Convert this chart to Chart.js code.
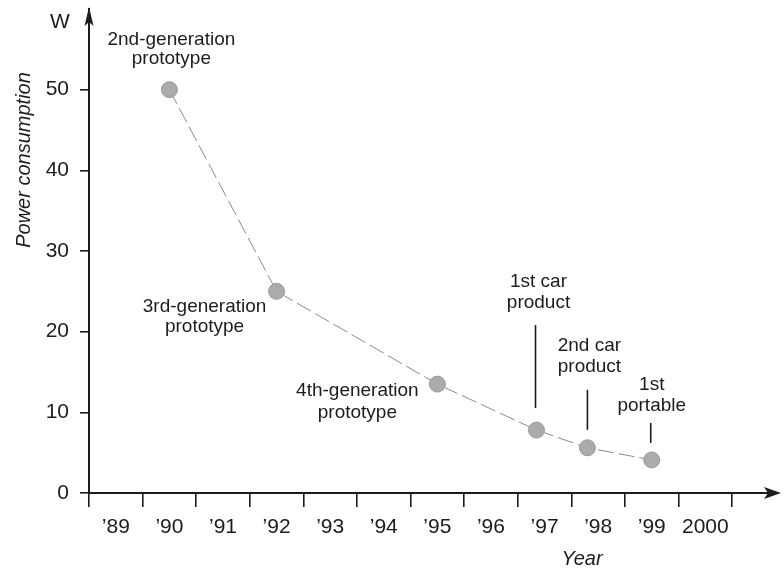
<!DOCTYPE html>
<html>
<head>
<meta charset="utf-8">
<script src="https://cdn.jsdelivr.net/npm/chart.js@4/dist/chart.umd.min.js"></script>
<style>
  html, body { margin: 0; padding: 0; background: #fff; }
  #wrap { width: 784px; height: 570px; }
</style>
</head>
<body>
<div id="wrap"><canvas id="c" width="784" height="570"></canvas></div>
<script>
// ---- data ----
const yearTicks = [1989, 1990, 1991, 1992, 1993, 1994, 1995, 1996, 1997, 1998, 1999, 2000, 2001];
const yearLabels = ["\u201989", "\u201990", "\u201991", "\u201992", "\u201993", "\u201994", "\u201995", "\u201996", "\u201997", "\u201998", "\u201999", "2000", ""];
const powerTicks = [0, 10, 20, 30, 40, 50];
const milestoneYears = [1990.5, 1992.5, 1995.5, 1997.35, 1998.3, 1999.5];
const powerWatts = [50, 25, 13.5, 7.8, 5.6, 4.1];
const milestoneNames = [
  ["2nd-generation", "prototype"],
  ["3rd-generation", "prototype"],
  ["4th-generation", "prototype"],
  ["1st car", "product"],
  ["2nd car", "product"],
  ["1st", "portable"]
];
const unitLabel = "W";
const yTitle = "Power consumption";
const xTitle = "Year";

// ---- styles (pixel offsets of labels relative to their point) ----
const labelStyle = [
  { dx: 2,   base: [-45, -26], line: null },
  { dx: -72, base: [21, 41],   line: null },
  { dx: -80, base: [12, 34],   line: null },
  { dx: 2,   base: [-143, -122], line: [-105, -22], lx: -1 },
  { dx: 2,   base: [-97, -76],   line: [-58, -18],  lx: 0 },
  { dx: 0,   base: [-70, -49],   line: [-37, -17],  lx: -1 }
];
const FONT = '"Liberation Sans", Arial, Helvetica, sans-serif';
const INK = '#1c1c1c';

const decor = {
  id: 'decor',
  afterDraw(chart) {
    const ctx = chart.ctx;
    const xs = chart.scales.x, ys = chart.scales.y;
    const area = chart.chartArea;
    const meta = chart.getDatasetMeta(0);
    ctx.save();
    ctx.fillStyle = INK;
    ctx.strokeStyle = INK;
    const y0 = ys.getPixelForValue(0);
    const xl = xs.left;
    // y-axis arrow
    ctx.beginPath();
    ctx.moveTo(xl, area.top - 2);
    ctx.lineTo(xl - 4.5, area.top + 17);
    ctx.lineTo(xl, area.top + 13);
    ctx.lineTo(xl + 4.5, area.top + 17);
    ctx.closePath();
    ctx.fill();
    // x-axis arrow (extends a few px past the plot edge)
    const tip = xs.right + 6;
    ctx.lineWidth = 2;
    ctx.beginPath();
    ctx.moveTo(xs.right - 2, y0);
    ctx.lineTo(tip - 10, y0);
    ctx.stroke();
    ctx.beginPath();
    ctx.moveTo(tip, y0);
    ctx.lineTo(tip - 17, y0 - 6);
    ctx.lineTo(tip - 13, y0);
    ctx.lineTo(tip - 17, y0 + 6);
    ctx.closePath();
    ctx.fill();

    // unit label
    ctx.font = '21px ' + FONT;
    ctx.textAlign = 'center';
    ctx.textBaseline = 'middle';
    ctx.fillText(unitLabel, 60, 22);

    // axis titles
    ctx.font = 'italic 20px ' + FONT;
    ctx.save();
    ctx.translate(24, 160);
    ctx.rotate(-Math.PI / 2);
    ctx.fillText(yTitle, 0, 0);
    ctx.restore();
    ctx.fillText(xTitle, 582, 559);

    // milestone labels
    ctx.font = '19px ' + FONT;
    ctx.textBaseline = 'alphabetic';
    ctx.lineWidth = 1.6;
    meta.data.forEach((pt, i) => {
      const st = labelStyle[i];
      const lines = milestoneNames[i];
      lines.forEach((t, k) => ctx.fillText(t, pt.x + st.dx, pt.y + st.base[k]));
      if (st.line) {
        ctx.beginPath();
        ctx.moveTo(pt.x + st.lx, pt.y + st.line[0]);
        ctx.lineTo(pt.x + st.lx, pt.y + st.line[1]);
        ctx.stroke();
      }
    });
    ctx.restore();
  }
};

new Chart(document.getElementById('c'), {
  type: 'line',
  data: {
    datasets: [{
      data: milestoneYears.map((x, i) => ({ x, y: powerWatts[i] })),
      borderColor: '#8a8a8a',
      borderWidth: 1,
      borderDash: [16, 5],
      pointRadius: 8,
      pointBackgroundColor: '#ababab',
      pointBorderColor: '#9a9a9a',
      pointBorderWidth: 1,
      tension: 0,
      clip: false
    }]
  },
  options: {
    responsive: false,
    animation: false,
    events: [],
    layout: { padding: { top: 9, right: 0, left: 0, bottom: 0 } },
    plugins: { legend: { display: false }, tooltip: { enabled: false } },
    scales: {
      x: {
        type: 'linear',
        min: 1989,
        max: 2001.8,
        afterBuildTicks: s => { s.ticks = yearTicks.map(v => ({ value: v })); },
        afterFit: s => { s.height = 77; s.paddingLeft = 0; s.paddingRight = 0; },
        border: { display: true, color: INK, width: 2 },
        grid: { drawOnChartArea: false, drawTicks: true, tickLength: 14, color: INK, lineWidth: 1.6 },
        ticks: {
          autoSkip: false,
          maxRotation: 0,
          labelOffset: 26.8,
          padding: 8,
          color: INK,
          font: { family: FONT, size: 21 },
          callback: (v, i) => yearLabels[i]
        }
      },
      y: {
        type: 'linear',
        min: 0,
        max: 60,
        afterBuildTicks: s => { s.ticks = powerTicks.map(v => ({ value: v })); },
        afterFit: s => { s.width = 89; s.paddingTop = 0; s.paddingBottom = 0; },
        border: { display: true, color: INK, width: 2 },
        grid: { drawOnChartArea: false, drawTicks: true, tickLength: 9, color: INK, lineWidth: 1.6 },
        ticks: {
          padding: 11,
          color: INK,
          font: { family: FONT, size: 21 },
          callback: v => String(v)
        }
      }
    }
  },
  plugins: [decor]
});
</script>
</body>
</html>
